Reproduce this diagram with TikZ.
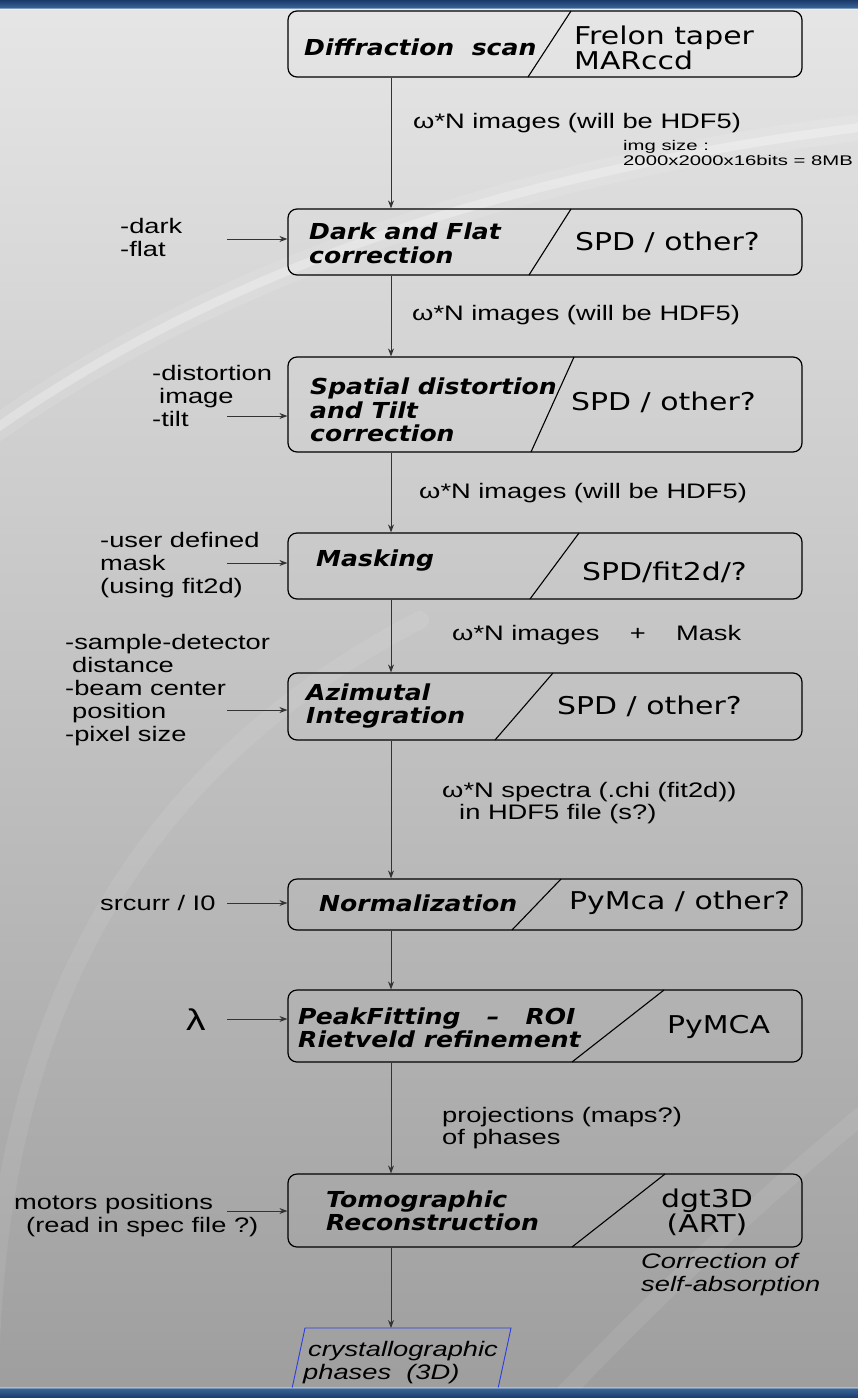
\documentclass[tikz,border=0pt]{standalone}
\usepackage{fontspec}
\usetikzlibrary{arrows.meta,calc}
\newfontfamily\labfont{Liberation Sans}[FakeStretch=1.3]
\newfontfamily\smallfont{Liberation Sans}[FakeStretch=1.45]
\newfontfamily\boxfont{DejaVu Sans}[FakeStretch=1.14]
\newfontfamily\toolfont{DejaVu Sans}[FakeStretch=1.22]
\definecolor{navy}{HTML}{1B3A6B}
\definecolor{navylight}{HTML}{3A6598}
\definecolor{bgtop}{HTML}{E6E6E6}
\definecolor{bgmid}{HTML}{D0D0D0}
\definecolor{bgbot}{HTML}{9E9E9E}
\definecolor{linegrey}{HTML}{333333}
\definecolor{phaseblue}{HTML}{2B3FE0}
\tikzset{
  stage/.style={draw=black, line width=1.2pt, rounded corners=9pt,
    minimum width=514pt, inner sep=0pt},
  divider/.style={draw=black, line width=1.1pt},
  stagetext/.style={anchor=west, align=left, inner sep=0pt,
    font=\boxfont\bfseries\itshape\fontsize{22}{23.5}\selectfont},
  tooltext/.style={anchor=west, align=left, inner sep=0pt,
    font=\toolfont\fontsize{24.5}{25}\selectfont},
  flowlabel/.style={anchor=west, align=left, inner sep=0pt,
    font=\labfont\fontsize{21}{22.5}\selectfont},
  inlabel/.style={anchor=west, align=left, inner sep=0pt,
    font=\labfont\fontsize{21}{23}\selectfont},
  arr/.style={draw=linegrey, line width=0.9pt,
    -{Stealth[length=8pt,width=6pt]}},
  glow/.style={draw=white, line cap=round},
}
\begin{document}
\begin{tikzpicture}[x=1pt,y=-1pt]
\useasboundingbox (0,0) rectangle (858,1398);
% background
\shade[top color=bgtop, middle color=bgmid, bottom color=bgbot]
  (0,0) rectangle (858,1398);
% faint light sweeps across the backdrop
\begin{scope}
\clip (0,0) rectangle (858,1398);
\draw[glow, line width=26pt, opacity=0.10] (-20,440) .. controls (200,280) and (500,170) .. (880,125);
\draw[glow, line width=9pt, opacity=0.28] (-20,440) .. controls (200,280) and (500,170) .. (880,125);
\draw[glow, line width=18pt, opacity=0.08] (-10,1398) .. controls (-10,1000) and (150,760) .. (420,620);
\draw[glow, line width=18pt, opacity=0.08] (560,1398) .. controls (700,1250) and (820,1150) .. (880,1100);
\end{scope}

% processing stages
\node[stage, minimum height=66pt] (b1) at (545,44) {};
\node[stage, minimum height=66pt] (b2) at (545,242) {};
\node[stage, minimum height=95pt] (b3) at (545,404.5) {};
\node[stage, minimum height=66pt] (b4) at (545,566) {};
\node[stage, minimum height=67pt] (b5) at (545,706.5) {};
\node[stage, minimum height=51pt] (b6) at (545,904.5) {};
\node[stage, minimum height=72pt] (b7) at (545,1026) {};
\node[stage, minimum height=73pt] (b8) at (545,1210.5) {};

% dividers between task and tool
\draw[divider] (528,77) -- (571,11);
\draw[divider] (529,275) -- (571,209);
\draw[divider] (531,452) -- (574,357);
\draw[divider] (530,599) -- (579,533);
\draw[divider] (495,740) -- (553,673);
\draw[divider] (512,930) -- (561,879);
\draw[divider] (572,1062) -- (664,990);
\draw[divider] (572,1247) -- (665,1174);

% task names
\node[stagetext] (s1) at (304,47) {Diffraction\ \ scan};
\node[stagetext] (s2) at (309,243.5) {Dark and Flat\\correction};
\node[stagetext] (s3) at (310,410) {Spatial distortion\\and Tilt\\correction};
\node[stagetext] (s4) at (316,561) {Masking};
\node[stagetext] (s5) at (306,706) {Azimutal\\Integration};
\node[stagetext] (s6) at (319,903) {Normalization};
\node[stagetext] (s7) at (298,1028) {PeakFitting\ \ \ –\ \ \ ROI\\Rietveld refinement};
\node[stagetext] (s8) at (326,1211) {Tomographic\\Reconstruction};

% tools
\node[tooltext] (t1) at (574,48) {Frelon taper\\MARccd};
\node[tooltext] (t2) at (575,242) {SPD / other?};
\node[tooltext] (t3) at (571,402) {SPD / other?};
\node[tooltext] (t4) at (582,572) {SPD/fit2d/?};
\node[tooltext] (t5) at (557,706) {SPD / other?};
\node[tooltext] (t6) at (569,903) {PyMca / other?};
\node[tooltext] (t7) at (667,1027) {PyMCA};
\node[tooltext, anchor=center, align=center] (t8) at (707,1212) {dgt3D\\(ART)};

% result
\draw[phaseblue, line width=0.9pt] (305,1328) coordinate (p1) -- (511,1328) coordinate (p2)
  -- (496,1398) coordinate (p3) -- (290,1398) coordinate (p4) -- cycle;
\node[flowlabel, font=\labfont\itshape\fontsize{21}{23}\selectfont] (res) at (303,1363)
  {\hspace{5pt}crystallographic\\phases\ \ (3D)};

% data passed between stages
\coordinate (axis) at (391,0);
\draw[arr] (b1.south -| axis) -- (b2.north -| axis);
\draw[arr] (b2.south -| axis) -- (b3.north -| axis);
\draw[arr] (b3.south -| axis) -- (b4.north -| axis);
\draw[arr] (b4.south -| axis) -- (b5.north -| axis);
\draw[arr] (b5.south -| axis) -- (b6.north -| axis);
\draw[arr] (b6.south -| axis) -- (b7.north -| axis);
\draw[arr] (b7.south -| axis) -- (b8.north -| axis);
\draw[arr] (b8.south -| axis) -- (p1 -| axis);

\node[flowlabel] (d1) at (413,123) {ω*N images (will be HDF5)};
\node[anchor=west, align=left, inner sep=0pt, font=\smallfont\fontsize{14}{15}\selectfont]
  (d1b) at (623,153) {img size :\\2000x2000x16bits = 8MB};
\node[flowlabel] (d2) at (412,315) {ω*N images (will be HDF5)};
\node[flowlabel] (d3) at (419,493) {ω*N images (will be HDF5)};
\node[flowlabel] (d4) at (452,635) {ω*N images\ \ \ \ +\ \ \ \ Mask};
\node[flowlabel] (d5) at (442,803) {ω*N spectra (.chi (fit2d))\\\hspace{17pt}in HDF5 file (s?)};
\node[flowlabel] (d7) at (442,1128) {projections (maps?)\\of phases};
\node[flowlabel, font=\labfont\itshape\fontsize{21}{23}\selectfont]
  (n8) at (641,1274.5) {Correction of\\self-absorption};

% side inputs
\node[inlabel] (i2) at (120,237.5) {-dark\\-flat};
\node[inlabel] (i3) at (152,396) {-distortion\\\hspace{7pt}image\\-tilt};
\node[inlabel] (i4) at (100,565) {-user defined\\mask\\(using fit2d)};
\node[inlabel] (i5) at (65,690) {-sample-detector\\\hspace{7pt}distance\\-beam center\\\hspace{7pt}position\\-pixel size};
\node[inlabel] (i6) at (100,903) {srcurr / I0};
\node[inlabel, font=\labfont\fontsize{30}{30}\selectfont] (i7) at (186,1020) {λ};
\node[inlabel] (i8) at (14,1216) {motors positions\\\hspace{12pt}(read in spec file ?)};

\coordinate (c2) at (227,239);
\coordinate (c3) at (227,416);
\coordinate (c4) at (227,563);
\coordinate (c5) at (227,710);
\coordinate (c6) at (227,903);
\coordinate (c7) at (227,1019);
\coordinate (c8) at (227,1211);
\draw[arr] (c2) -- (c2 -| b2.west);
\draw[arr] (c3) -- (c3 -| b3.west);
\draw[arr] (c4) -- (c4 -| b4.west);
\draw[arr] (c5) -- (c5 -| b5.west);
\draw[arr] (c6) -- (c6 -| b6.west);
\draw[arr] (c7) -- (c7 -| b7.west);
\draw[arr] (c8) -- (c8 -| b8.west);

% slide frame bars
\shade[top color=navy, bottom color=navylight] (0,0) rectangle (858,8);
\fill[white, opacity=0.35] (0,8) rectangle (858,9.5);
\shade[top color=navylight, bottom color=navy] (0,1388) rectangle (858,1398);
\fill[white, opacity=0.3] (0,1387) rectangle (858,1388.5);
\end{tikzpicture}
\end{document}
